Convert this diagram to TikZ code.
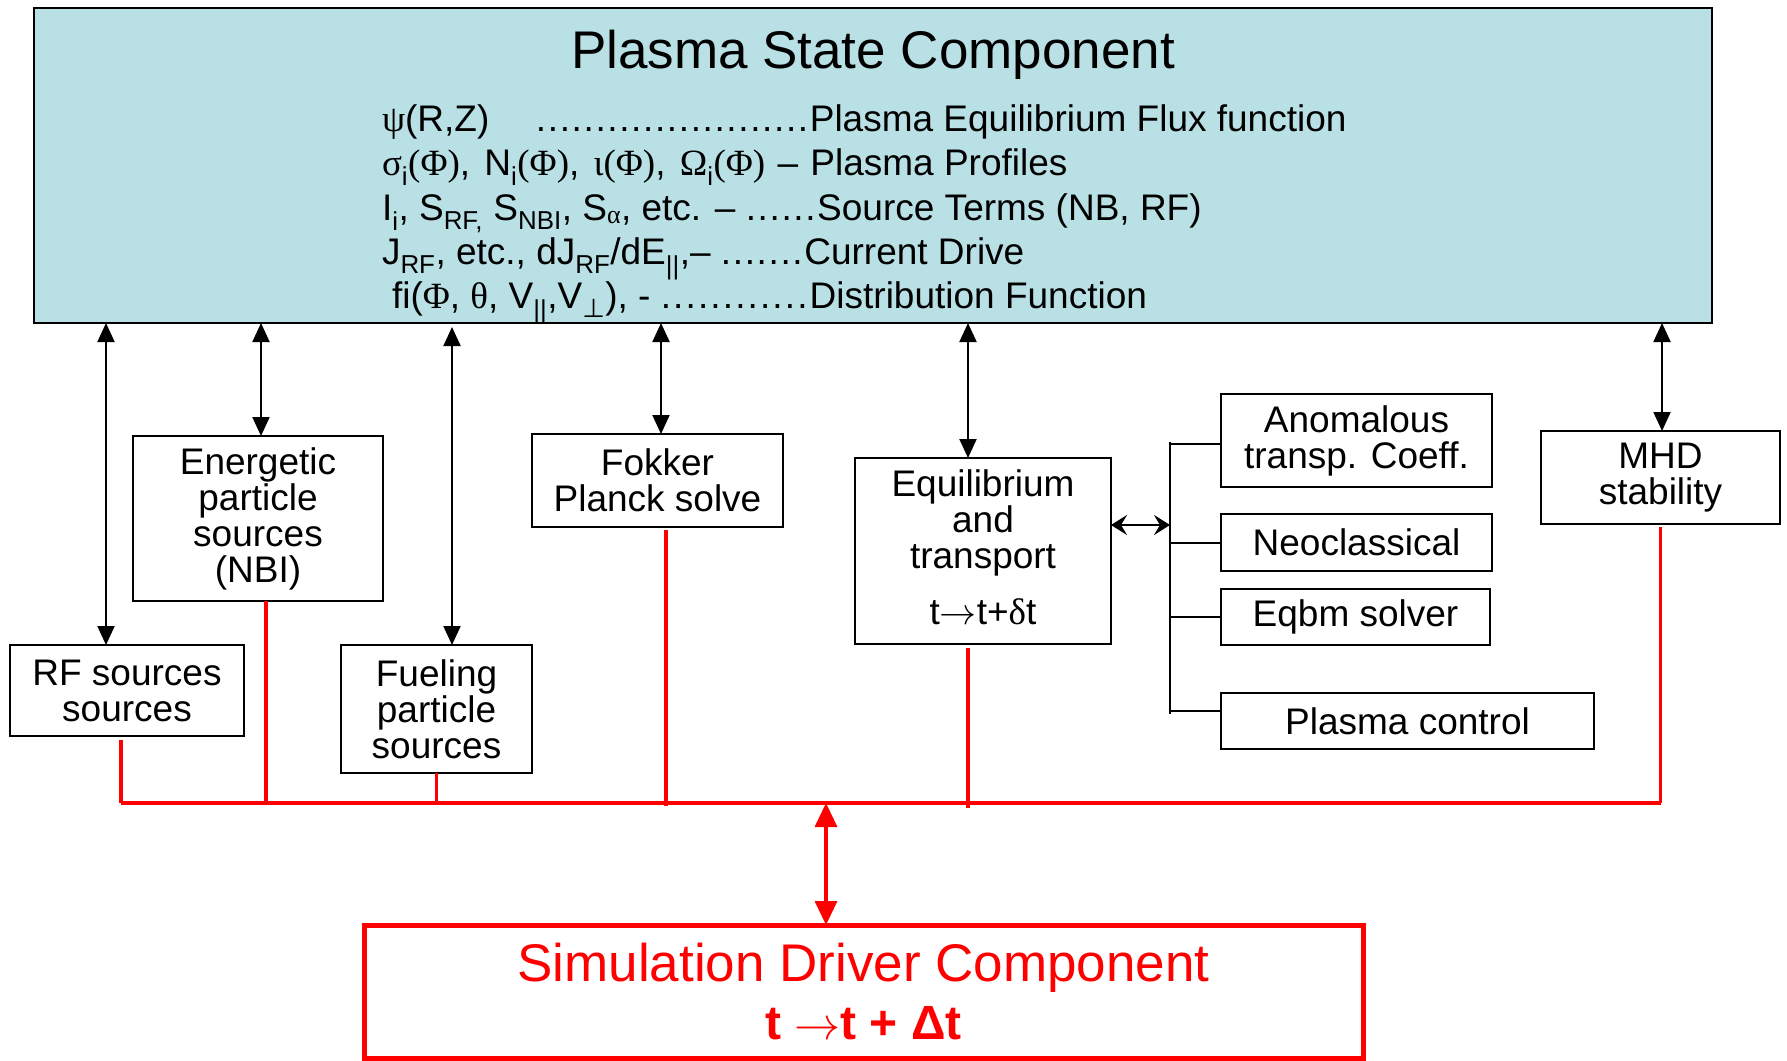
\documentclass[tikz,border=0pt]{standalone}
\usepackage{fontspec}
\setmainfont{Liberation Sans}
\newfontfamily\grk{Liberation Serif}
\newfontfamily\symf{DejaVu Sans}
\usetikzlibrary{arrows.meta}

\definecolor{stateblue}{RGB}{185,224,228}
\definecolor{drvred}{RGB}{255,0,0}

% subscript in the running text font
\newcommand\lowr[1]{\textsubscript{#1}}
% run of evenly spaced leader dots: [pitch]{count}
\newcommand\dotrun[2][11.9pt]{\hbox to \dimexpr #1*#2\relax{\leaders\hbox to #1{.\hss}\hfill}}
% long thin arrow scaled to the surrounding text
\newcommand\longarr[1]{\scalebox{#1}{\fontsize{10}{12}\selectfont$\rightarrow$}}

\begin{document}
\begin{tikzpicture}[x=1pt,y=-1pt,
  every node/.style={inner sep=0pt,outer sep=0pt},
  comp/.style={draw=black,line width=2.2pt,anchor=north west,align=center,
    font=\fontsize{37}{36}\selectfont},
  stateline/.style={anchor=base west,font=\fontsize{37}{44}\selectfont},
  statelink/.style={line width=2pt,
    {Triangle[length=19pt,width=17pt]}-{Triangle[length=19pt,width=17pt]}},
  branch/.style={line width=2pt},
  eqlink/.style={line width=2.4pt,
    {Stealth[length=16pt,width=20pt,inset=6pt]}-{Stealth[length=16pt,width=20pt,inset=6pt]}},
  busline/.style={draw=drvred,line width=3.4pt},
  drvlink/.style={draw=drvred,line width=3.4pt,
    {Triangle[length=24pt,width=22pt]}-{Triangle[length=24pt,width=22pt]}},
]
\useasboundingbox (0,0) rectangle (1787,1060);

% --- shared plasma state ---
\node[draw=black,line width=2pt,fill=stateblue,anchor=north west,
      minimum width=1678pt,minimum height=315pt] (top) at (34,8) {};
\node[anchor=base,font=\fontsize{53}{58}\selectfont] (title) at (873,68)
  {Plasma State Component};
\node[stateline] (l1) at (382,131)
  {\makebox[154pt][l]{{\grk ψ}(R,Z)}\dotrun{23}Plasma Equilibrium Flux function};
\node[stateline] (l2) at (382,175)
  {{\grk σ}\lowr{i}{\grk (Φ)},\kern4pt{} N\lowr{i}{\grk (Φ)},\kern4pt{} {\grk ι(Φ)},\kern4pt{} {\grk Ω}\lowr{i}{\grk (Φ)}\kern2pt{} –\kern2pt{} Plasma Profiles};
\node[stateline] (l3) at (382,220)
  {I\lowr{i}, S\lowr{RF,} S\lowr{NBI}, S\lowr{{\grk α}}, etc. – \dotrun{6}Source Terms (NB, RF)};
\node[stateline] (l4) at (382,264)
  {J\lowr{RF}, etc., dJ\lowr{RF}/dE\lowr{||},– \dotrun{7}Current Drive};
\node[stateline] (l5) at (392,308)
  {fi({\grk Φ}, {\grk θ}, V\lowr{||},V\lowr{{\symf ⊥}}), - \dotrun[12.4pt]{12}Distribution Function};

% --- physics components ---
\node[comp,minimum width=234pt,minimum height=91pt] (rf) at (10,645)
  {RF sources\\sources};
\node[comp,minimum width=250pt,minimum height=165pt] (nbi) at (133,436)
  {Energetic\\particle\\sources\\(NBI)};
\node[comp,minimum width=191pt,minimum height=128pt] (fuel) at (341,645)
  {Fueling\\particle\\sources};
\node[comp,minimum width=251pt,minimum height=93pt] (fp) at (532,434)
  {Fokker\\Planck solve};
\node[comp,minimum width=256pt,minimum height=186pt] (eq) at (855,458)
  {Equilibrium\\and\\transport\\[20pt]t\longarr{3.7}t+{\grk δ}t\rule[-7pt]{0pt}{7pt}};
\node[comp,minimum width=271pt,minimum height=93pt] (anom) at (1221,394)
  {Anomalous\\transp. Coeff.};
\node[comp,minimum width=271pt,minimum height=57pt] (neo) at (1221,514)
  {Neoclassical};
\node[comp,minimum width=269pt,minimum height=56pt] (eqbm) at (1221,589)
  {Eqbm solver};
\node[comp,minimum width=373pt,minimum height=56pt] (pc) at (1221,693)
  {Plasma control};
\node[comp,minimum width=239pt,minimum height=93pt] (mhd) at (1541,431)
  {MHD\\stability};

% --- driver ---
\node[comp,draw=drvred,line width=5pt,text=drvred,
      font=\fontsize{53}{58}\selectfont,
      minimum width=999pt,minimum height=133pt] (sim) at (364,925)
  {Simulation Driver Component\\{\fontsize{48}{58}\selectfont\bfseries t \longarr{4.6}t + Δt}};

% --- exchanges with the plasma state ---
\draw[statelink] ([xshift=-21pt]rf.north |- top.south) -- ([xshift=-21pt]rf.north);
\draw[statelink] ([xshift=3pt]nbi.north |- top.south) -- ([xshift=3pt]nbi.north);
\draw[statelink] ([shift={(15.5pt,-4pt)}]fuel.north |- top.south) -- ([xshift=15.5pt]fuel.north);
\draw[statelink] ([xshift=3.5pt]fp.north |- top.south) -- ([xshift=3.5pt]fp.north);
\draw[statelink] ([xshift=-15pt]eq.north |- top.south) -- ([xshift=-15pt]eq.north);
\draw[statelink] ([xshift=1.5pt]mhd.north |- top.south) -- ([xshift=1.5pt]mhd.north);

% --- transport sub-models ---
\coordinate (brtop) at (1170,442);
\coordinate (brbot) at (1170,714);
\draw[branch] (brtop) -- (brbot);
\draw[branch] ([yshift=-3.5pt]anom.west) -- ([yshift=-3.5pt]anom.west -| brtop);
\draw[branch] (neo.west) -- (neo.west -| brtop);
\draw[branch] (eqbm.west) -- (eqbm.west -| brtop);
\draw[branch] ([yshift=10.5pt]pc.west) -- ([yshift=10.5pt]pc.west -| brtop);
\draw[eqlink] ([yshift=26pt]eq.east) -- ([yshift=26pt]eq.east -| brtop);

% --- driver bus ---
\coordinate (busL) at (121,803);
\coordinate (busR) at (1661,803);
\draw[busline] (busL) -- (busR);
\draw[busline] ([shift={(-6pt,-4pt)}]rf.south) -- ([xshift=-6pt]rf.south |- busL);
\draw[busline] ([xshift=8pt]nbi.south) -- ([xshift=8pt]nbi.south |- busL);
\draw[busline] (fuel.south) -- (fuel.south |- busL);
\draw[busline] ([shift={(8.5pt,-3pt)}]fp.south) -- ([shift={(8.5pt,-3pt)}]fp.south |- busL);
\draw[busline] ([shift={(-15pt,-4pt)}]eq.south) -- ([shift={(-15pt,-5pt)}]eq.south |- busL);
\draw[busline] ([yshift=-3pt]mhd.south) -- (mhd.south |- busR);
\draw[drvlink] ([xshift=-37.5pt]sim.north |- busL) -- ([xshift=-37.5pt]sim.north);
\end{tikzpicture}
\end{document}
